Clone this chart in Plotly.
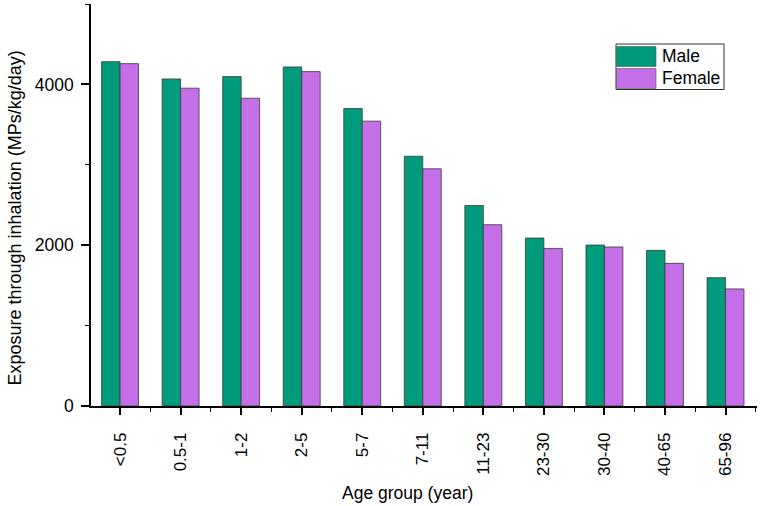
import plotly.graph_objects as go

# ---- data ----
categories = ["<0.5", "0.5-1", "1-2", "2-5", "5-7", "7-11", "11-23", "23-30", "30-40", "40-65", "65-96"]
male = [4283, 4068, 4097, 4217, 3699, 3107, 2494, 2089, 2002, 1936, 1596]
female = [4258, 3953, 3828, 4159, 3543, 2950, 2255, 1960, 1978, 1774, 1456]
series_names = ["Male", "Female"]
series_colors = ["#009B7C", "#C46FE8"]
y_tick_values = [0, 2000, 4000]

FONT = "Arial, Liberation Sans, sans-serif"
W, H = 761, 506
ML, MR, MT, MB = 91, 4, 4, 100

xpos = list(range(len(categories)))

fig = go.Figure()
for name, vals, col in zip(series_names, [male, female], series_colors):
    fig.add_trace(go.Bar(
        x=xpos, y=vals, name=name,
        marker=dict(color=col, line=dict(color="#3a3a3a", width=0.8)),
        showlegend=False,
    ))

axis_common = dict(
    showline=True, linecolor="black", linewidth=1.6,
    ticks="outside", tickcolor="black", tickwidth=1.6,
    showgrid=False, zeroline=False, mirror=False,
)

fig.update_layout(
    width=W, height=H,
    margin=dict(l=ML, r=MR, t=MT, b=MB),
    paper_bgcolor="white", plot_bgcolor="white",
    barmode="group", bargap=0.39, bargroupgap=0,
    font=dict(family=FONT, color="black"),
    xaxis=dict(
        **axis_common,
        range=[-0.48, 10.52],
        tickmode="array", tickvals=xpos, ticktext=categories,
        tickangle=-90, ticklen=7, ticklabelstandoff=11,
        tickfont=dict(size=17, family=FONT),
        minor=dict(tickmode="linear", tick0=0.5, dtick=1, ticklen=4,
                   tickwidth=1.4, tickcolor="black", ticks="outside"),
    ),
    yaxis=dict(
        **axis_common,
        range=[0, 5000],
        tickmode="array", tickvals=y_tick_values,
        ticklen=8, ticklabelstandoff=4,
        tickfont=dict(size=17.5, family=FONT),
        minor=dict(tickmode="linear", tick0=0, dtick=1000, ticklen=4,
                   tickwidth=1.4, tickcolor="black", ticks="outside"),
    ),
)

# axis titles (positioned like the reference)
fig.add_annotation(
    text="Exposure through inhalation (MPs/kg/day)", textangle=-90,
    xref="paper", yref="paper",
    x=(15 - ML) / (W - ML - MR), y=(H - MB - 218.5) / (H - MB - MT),
    showarrow=False, font=dict(size=18, family=FONT),
    xanchor="center", yanchor="middle",
)
fig.add_annotation(
    text="Age group (year)",
    xref="paper", yref="paper",
    x=(407 - ML) / (W - ML - MR), y=(H - MB - 493) / (H - MB - MT),
    showarrow=False, font=dict(size=17.5, family=FONT),
    xanchor="center", yanchor="middle",
)

# legend box drawn like the reference (wide swatches)
pw, ph = W - ML - MR, H - MB - MT
def px(xp):
    return (xp - ML) / pw
def py(yp):
    return (H - MB - yp) / ph

fig.add_shape(type="rect", xref="paper", yref="paper",
              x0=px(616), x1=px(724), y0=py(89.5), y1=py(44),
              line=dict(color="#333333", width=1), fillcolor="white")
rows = [(46.5, 66.5), (68.5, 88.5)]
for (top, bot), name, col in zip(rows, series_names, series_colors):
    fig.add_shape(type="rect", xref="paper", yref="paper",
                  x0=px(616.5), x1=px(656), y0=py(bot), y1=py(top),
                  line=dict(color="#555555", width=0.6), fillcolor=col)
    fig.add_annotation(text=name, xref="paper", yref="paper",
                       x=px(660), y=py((top + bot) / 2),
                       xanchor="left", yanchor="middle", showarrow=False,
                       font=dict(size=17.5, family=FONT))

fig.write_html("out.html", config={"displayModeBar": False},
               post_script="document.body.style.margin='0';document.body.style.overflow='hidden';")
